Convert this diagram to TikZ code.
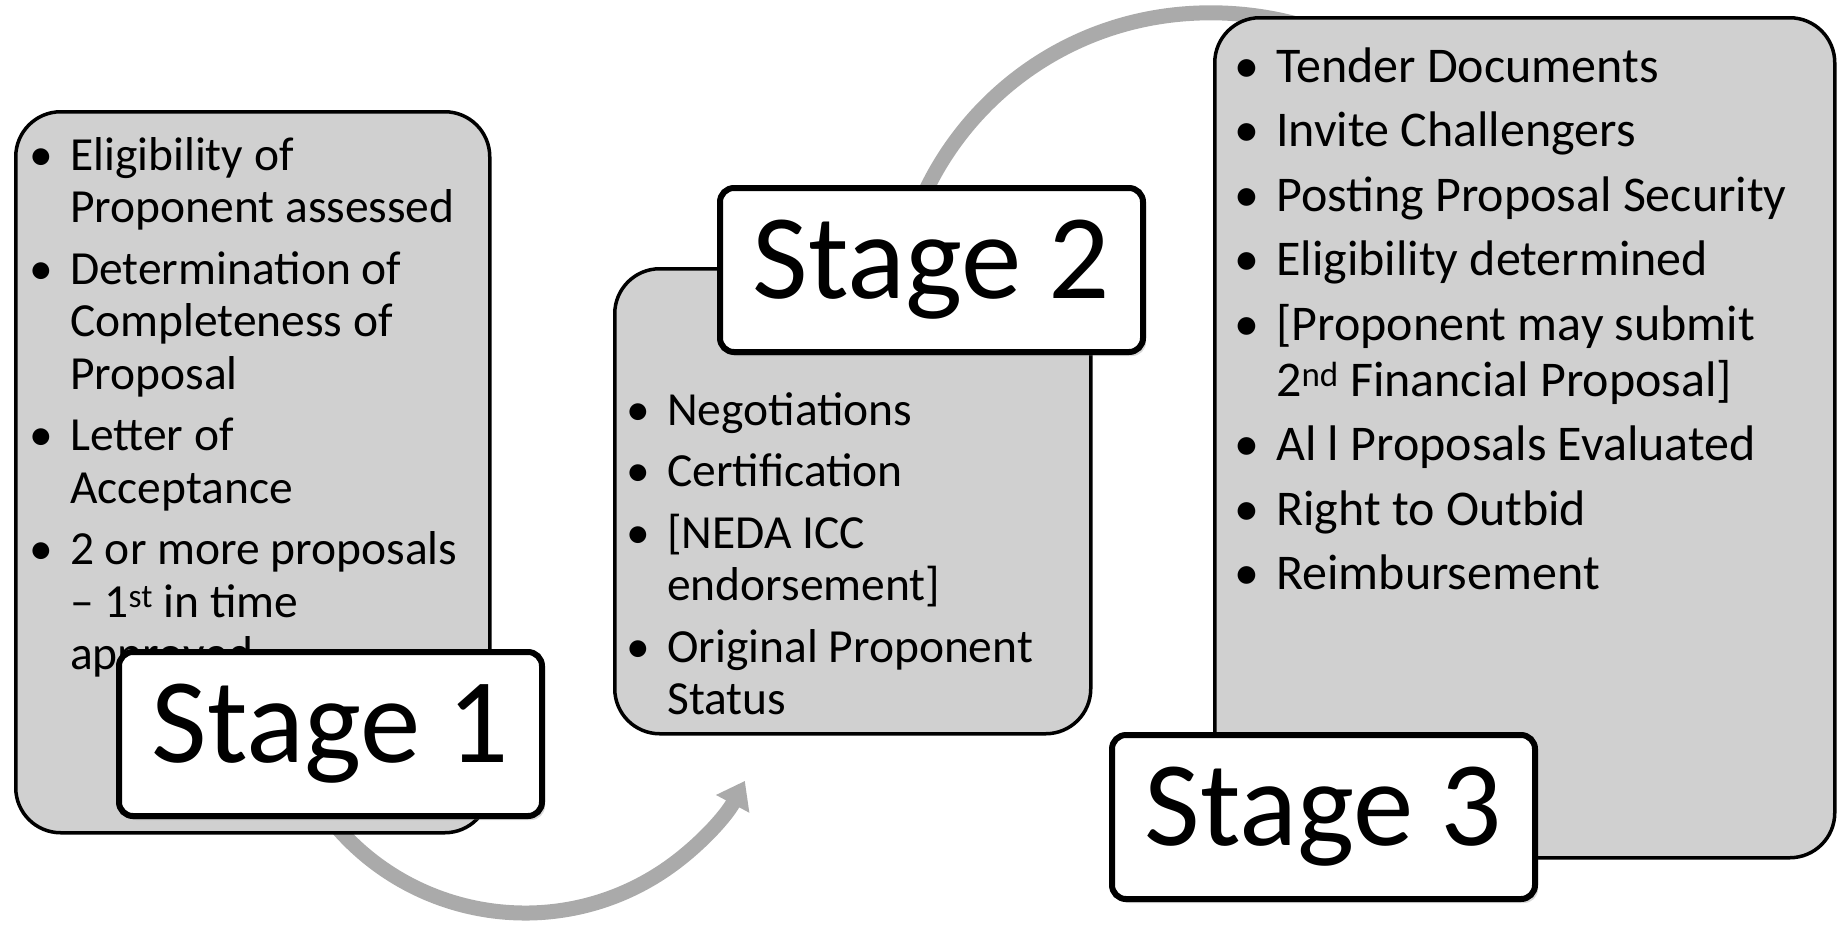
\documentclass[tikz,border=0pt]{standalone}
\usepackage{fontspec}
\setmainfont{Carlito}
\usetikzlibrary{arrows.meta,shadows}
\definecolor{panelgray}{RGB}{208,208,208}
\definecolor{arcgray}{RGB}{170,170,170}
% bullet hung into the left margin of a list line
\newcommand\bul{\leavevmode\llap{\textbullet\hspace{17pt}}}
% size, line spacing and gap between items of a bullet list
\newcommand\listfont[3]{\fontsize{#1}{#2}\selectfont\setlength\parskip{#3}}
\tikzset{
  panel/.style={draw=black, line width=3.5pt, fill=panelgray,
    rounded corners=45pt, inner sep=0pt, anchor=north west},
  stagebox/.style={draw=black, line width=6pt, fill=white,
    rounded corners=14pt, minimum width=423pt, minimum height=164pt,
    inner sep=0pt, font=\fontsize{121pt}{125pt}\selectfont,
    drop shadow={opacity=0.3, shadow xshift=3pt, shadow yshift=-4pt}},
  bullets/.style={anchor=base west, inner sep=0pt, align=flush left, text width=560pt},
  flowarc/.style={draw=arcgray, line width=15pt,
    -{Triangle[length=26pt, width=36pt]}},
}
\begin{document}
\begin{tikzpicture}[x=1pt, y=-1pt]
\useasboundingbox (0,0) rectangle (1839,930);

% curved arrows, lying underneath the panels
\coordinate (c1) at (525,664);
\coordinate (c2) at (1208,326);
\draw[flowarc] ([shift={(145:249)}]c1) arc[start angle=145, end angle=28, radius=249];
\draw[flowarc] ([shift={(198:313)}]c2) arc[start angle=198, end angle=310, radius=313];

% grey panels
\node[panel, minimum width=474pt, minimum height=721pt] (p1) at (14,110) {};
\node[panel, minimum width=476pt, minimum height=465pt] (p2) at (613,267) {};
\node[panel, minimum width=620pt, minimum height=840pt] (p3) at (1213,16) {};

% panel texts
\node[bullets] (t1) at (70,170) {\listfont{47.5pt}{52.5pt}{9pt}%
\bul Eligibility of\newline Proponent assessed\par
\bul Determination of\newline Completeness of\newline Proposal\par
\bul Letter of\newline Acceptance\par
\bul 2 or more proposals\newline – 1\textsuperscript{st} in time\newline approved\par};

\node[bullets] (t2) at (667,425) {\listfont{47.5pt}{52.5pt}{9pt}%
\bul Negotiations\par
\bul Certification\par
\bul [NEDA ICC\newline endorsement]\par
\bul Original Proponent\newline Status\par};

\node[bullets] (t3) at (1276,82) {\listfont{50pt}{56pt}{8.5pt}%
\bul Tender Documents\par
\bul Invite Challengers\par
\bul Posting Proposal Security\par
\bul Eligibility determined\par
\bul [Proponent may submit\newline 2\textsuperscript{nd} Financial Proposal]\par
\bul Al l Proposals Evaluated\par
\bul Right to Outbid\par
\bul Reimbursement\par};

% stage labels
\node[stagebox] (s1) at (330.5,734) {Stage 1};
\node[stagebox] (s2) at (931.5,270) {Stage 2};
\node[stagebox] (s3) at (1323.5,817) {Stage 3};
\end{tikzpicture}
\end{document}
